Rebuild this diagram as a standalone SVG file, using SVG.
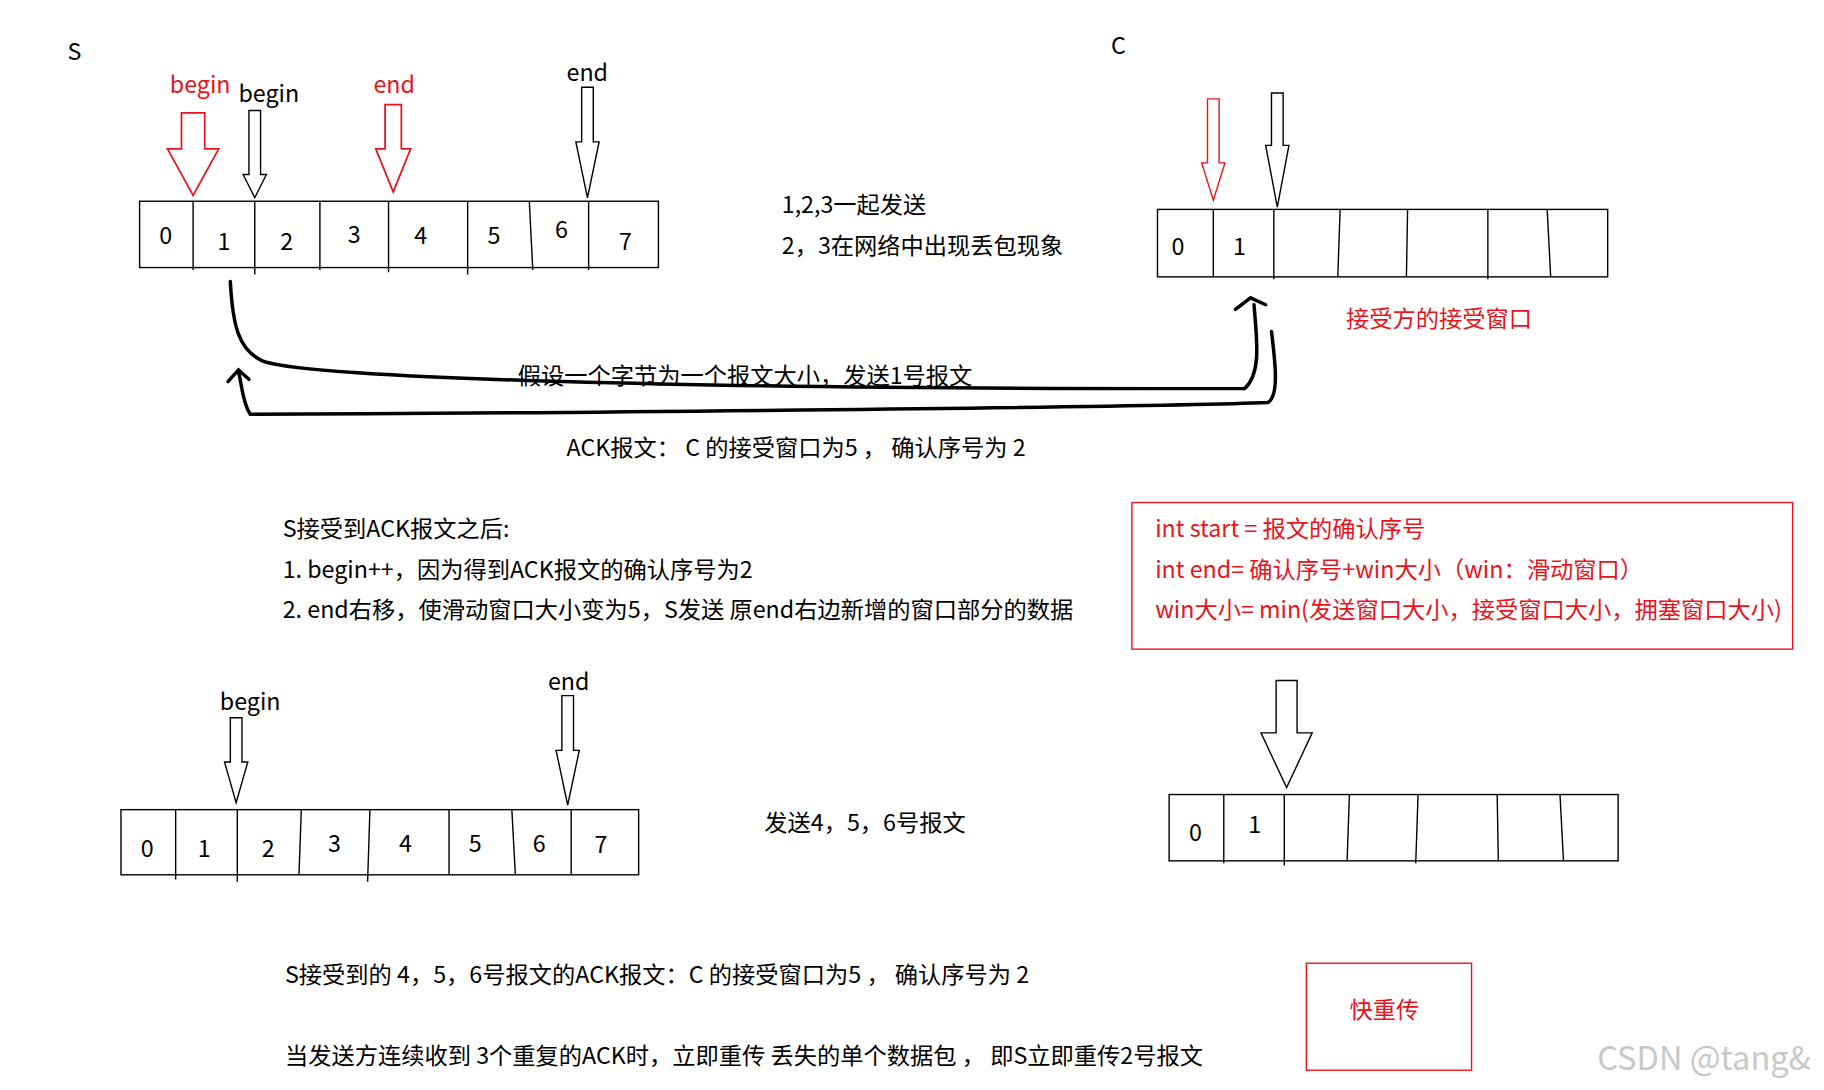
<svg xmlns="http://www.w3.org/2000/svg" width="1824" height="1090" viewBox="0 0 1824 1090">
<style>
text{font-family:"Microsoft YaHei","Noto Sans CJK SC","Noto Sans",sans-serif;font-size:20px;fill:#000}
.r{fill:#e8141c}
.box{fill:none;stroke:#000;stroke-width:1.2}
.ln{stroke:#000;stroke-width:1.2}
.ha{fill:#fff;stroke:#000;stroke-width:1.2}
.hr{fill:#fff;stroke:#e8141c;stroke-width:1.5}
.rb{fill:none;stroke:#e8141c;stroke-width:1.2}
.c{fill:none;stroke:#000;stroke-width:3;stroke-linecap:round}
</style>
<rect width="1824" height="1090" fill="#fff"/>
<g transform="scale(1.1633)">
<text x="58" y="52">S</text>
<text x="955" y="46">C</text>
<g id="top-array">
<rect class="box" x="120" y="173" width="446" height="57"/>
<path class="ln" d="M166 173V232M219 173V236M275 173V232M334 173V234M402 173V236M455 173L458 232M506 173V232"/>
<text x="137" y="210">0</text><text x="187" y="215">1</text><text x="241" y="215">2</text><text x="299" y="209">3</text><text x="356" y="210">4</text><text x="419" y="210">5</text><text x="477" y="205">6</text><text x="532" y="215">7</text>
</g>
<g id="top-pointers">
<text class="r" x="146" y="80">begin</text>
<path class="hr" d="M156 97H176V128H188L166 168L144 128H156Z"/>
<text x="205" y="88">begin</text>
<path class="ha" d="M214 95H224V150H229L219 170L209 150H214Z"/>
<text class="r" x="321" y="80">end</text>
<path class="hr" d="M331 90H345V128H353L338 165L323 128H331Z"/>
<text x="487" y="70">end</text>
<path class="ha" d="M500 75H510V122H515L505 170L495 122H500Z"/>
</g>
<text x="672" y="183">1,2,3一起发送</text>
<text x="672" y="218">2，3在网络中出现丢包现象</text>
<g id="c-array">
<rect class="box" x="995" y="180" width="387" height="58"/>
<path class="ln" d="M1043 180V238M1095 180V240M1152 180L1150 238M1210 180L1209 238M1279 180V240M1330 180L1333 238"/>
<text x="1007" y="219">0</text><text x="1060" y="219">1</text>
<path class="hr" style="stroke-width:1.2" d="M1038 85H1048V140H1053L1043 172L1033 140H1038Z"/>
<path class="ha" d="M1093 80H1103V125H1108L1098 178L1088 125H1093Z"/>
</g>
<text class="r" x="1157" y="281">接受方的接受窗口</text>
<g id="connectors">
<path class="c" d="M198 242C200 280 205 300 225 310C260 325 600 335 1070 334C1085 320 1080 290 1078 262"/>
<path class="c" d="M1062 266L1075 256L1088 262"/>
<path class="c" d="M1093 285C1096 310 1100 340 1090 346C1000 350 400 356 215 356C208 345 208 330 205 320"/>
<path class="c" d="M196 328L205 318L214 326"/>
</g>
<text x="445" y="330">假设一个字节为一个报文大小，发送1号报文</text>
<text x="487" y="392">ACK报文： C 的接受窗口为5 ， 确认序号为  2</text>
<text x="243" y="462">S接受到ACK报文之后:</text>
<text x="243" y="497">1. begin++，因为得到ACK报文的确认序号为2</text>
<text x="243" y="531">2. end右移，使滑动窗口大小变为5，S发送 原end右边新增的窗口部分的数据</text>
<g id="formula">
<rect class="rb" x="973" y="432" width="568" height="126"/>
<text class="r" x="993" y="462">int start = 报文的确认序号</text>
<text class="r" x="993" y="497">int end= 确认序号+win大小（win：滑动窗口）</text>
<text class="r" x="993" y="531">win大小= min(发送窗口大小，接受窗口大小，拥塞窗口大小)</text>
</g>
<g id="bottom-array">
<rect class="box" x="104" y="696" width="445" height="56"/>
<path class="ln" d="M151 696V756M204 696V758M259 696L257 752M318 696L316 758M386 696V752M440 696L443 752M491 696V752"/>
<text x="121" y="737">0</text><text x="170" y="737">1</text><text x="225" y="737">2</text><text x="282" y="732">3</text><text x="343" y="732">4</text><text x="403" y="732">5</text><text x="458" y="732">6</text><text x="511" y="733">7</text>
<text x="189" y="610">begin</text>
<path class="ha" d="M198 617H208V655H213L203 690L193 655H198Z"/>
<text x="471" y="593">end</text>
<path class="ha" d="M483 598H493V645H498L488 692L478 645H483Z"/>
</g>
<text x="657" y="714">发送4，5，6号报文</text>
<g id="c-array2">
<rect class="box" x="1005" y="683" width="386" height="57"/>
<path class="ln" d="M1052 683V742M1104 683V744M1160 683L1158 740M1219 683L1217 742M1287 683L1288 740M1341 683L1344 740"/>
<text x="1022" y="723">0</text><text x="1073" y="716">1</text>
<path class="ha" d="M1097 585H1115V630H1128L1106 677L1084 630H1097Z"/>
</g>
<text x="245" y="845">S接受到的 4，5，6号报文的ACK报文：C 的接受窗口为5 ， 确认序号为  2</text>
<text x="245" y="915">当发送方连续收到 3个重复的ACK时，立即重传 丢失的单个数据包 ， 即S立即重传2号报文</text>
<g id="fast">
<rect class="rb" x="1123" y="828" width="142" height="92"/>
<text class="r" x="1160" y="875">快重传</text>
</g>
<text x="1373" y="920" style="font-size:28px;fill:#c8c8c8">CSDN @tang&amp;</text>
</g>
</svg>
